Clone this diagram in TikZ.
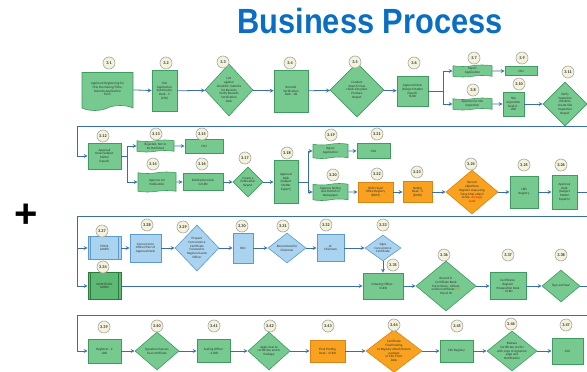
\documentclass[tikz,border=0pt]{standalone}
\usepackage{fontspec}
\setmainfont{Liberation Sans}
\newfontfamily\boxfont{Carlito}
\usetikzlibrary{shapes.geometric, shapes.symbols}

\definecolor{titleblue}{HTML}{0A6EC2}
\definecolor{procgreen}{HTML}{76C98F}
\definecolor{procline}{HTML}{3E9A5E}
\definecolor{darkgreen}{HTML}{5CBA74}
\definecolor{darkline}{HTML}{2D7A3C}
\definecolor{paleblue}{HTML}{A9D3EE}
\definecolor{paleline}{HTML}{5C9ACB}
\definecolor{hotorange}{HTML}{F8A21F}
\definecolor{hotline}{HTML}{D98315}
\definecolor{badgefill}{HTML}{F4F2DA}
\definecolor{linkblue}{HTML}{3C6EA6}

\tikzset{
	box/.style={draw=procline, fill=procgreen, line width=0.6pt, inner sep=0.5pt, align=center, text=black!80, font=\boxfont\fontsize{3.3}{3.8}\selectfont},
	proc/.style={box, rectangle},
	dec/.style={box, diamond, inner sep=-3pt},
	doc/.style={box, tape, tape bend top=none, tape bend height=5pt},
	wave/.style={box, tape, tape bend height=1.5pt},
	bluebox/.style={fill=paleblue, draw=paleline},
	hot/.style={fill=hotorange, draw=hotline},
	sz/.style 2 args={minimum width=#1, minimum height=#2},
	badge/.style={circle, draw=gray!70, fill=badgefill, line width=0.6pt, minimum size=12, inner sep=0, text=black!80, font=\boxfont\bfseries\fontsize{4.2}{4.2}\selectfont},
	link/.style={draw=linkblue, line width=0.8pt}
}

\begin{document}
\begin{tikzpicture}[x=1pt, y=-1pt]
		\useasboundingbox (0,0) rectangle (587,372);

		\node[text=titleblue, anchor=base] (title) at (370,34) {\scalebox{0.88}[1]{\bfseries\fontsize{35}{40}\selectfont Business Process}};
		\node[font=\bfseries\fontsize{40}{40}\selectfont] (plus) at (26,216) {+};

		% row 1
		\node[doc, sz={51}{38}] (n31) at (107.5,89) {Applicant Registering for\\Title Purchasing/Tithe,\\Submits Application\\Form};
		\node[proc, sz={25}{41}] (n32) at (164.5,91) {CSU\\Application\\Submission\\Desk - 5\\(LVD)};
		\node[dec, sz={48}{52}] (n33) at (229,90) {List\\against\\Checklist, Submits\\for Records\\Verify Records\\Verification\\Desk};
		\node[proc, sz={34}{42}] (n34) at (291,91) {Records\\Verification\\Desk - 4B};
		\node[dec, sz={54}{54}] (n35) at (357,90) {Conduct\\Search Cross\\check site plans\\Produce\\Report};
		\node[proc, sz={31}{30}] (n36) at (412.5,91) {Approval Desk\\(Subject Matter\\Expert)\\SLRD};
		\node[wave, sz={39}{12}] (n37) at (472.5,71) {Reject\\Application};
		\node[proc, sz={32}{9}] (n39) at (521,71) {CSU};
		\node[wave, sz={39}{12}] (n38) at (472.5,104) {Approve for Site\\Inspection};
		\node[proc, sz={21}{24}] (n310) at (513.5,104) {Site\\Inspection\\Desk 6 -\\LRD};
		\node[dec, sz={44}{44}] (n311) at (565,104) {Verify\\inspection\\checklist,\\Create Site\\Inspection\\Report};

		% row 2
		\node[proc, sz={33}{26}] (n312) at (104.5,156) {Approval\\Desk (Subject\\Matter\\Expert)};
		\node[wave, sz={37}{12}] (n313) at (155.5,146) {Rejected, Not to\\be Published};
		\node[proc, sz={38}{14}] (n315) at (204,146) {CSU};
		\node[wave, sz={38}{20}] (n314) at (157,182) {Approve for\\Publication};
		\node[proc, sz={40}{17}] (n316) at (203,182) {Publication Desk\\12 LRD};
		\node[dec, sz={30}{30}] (n317) at (248,182) {Create a\\Publication\\Report};
		\node[proc, sz={24}{43}] (n318) at (286,182) {Approval\\Desk\\(Subject\\Matter\\Expert)};
		\node[wave, sz={35}{15}] (n319) at (330.5,151) {Reject\\Application};
		\node[proc, sz={33}{15}] (n321) at (373.5,151) {CSU};
		\node[wave, sz={35}{17}] (n320) at (330.5,192) {Approve Noting\\and Publish in\\Newspaper};
		\node[proc, hot, sz={35}{20}] (n322) at (375.5,192) {DMC Head\\Office Registry\\(BDM)};
		\node[proc, hot, sz={29}{21}] (n323) at (417.5,192) {Noting\\Desk - 3\\(DMO)};
		\node[dec, hot, sz={52}{44}] (n324) at (472,192) {Record\\objections\\Register map using\\Trace Map attach\\to file. {\color{red}Acreage}\\{\color{red}Land}};
		\node[proc, sz={28}{32}] (n325) at (524,192) {LRD\\Registry};
		\node[proc, sz={25}{34}] (n326) at (564.5,192) {Approval\\Desk\\(Subject\\Matter\\Experts)};

		% row 3
		\node[proc, bluebox, sz={33}{23}] (n327) at (104.5,248) {STOOL\\LANDS};
		\node[proc, bluebox, sz={31}{28}] (n328) at (145.5,248) {Concurrence\\Officer/Part of\\Approval Desk};
		\node[dec, bluebox, sz={44}{46}] (n329) at (197,248) {Prepare\\Concurrence\\Certificate\\Forward to\\Regional Lands\\Officer};
		\node[proc, bluebox, sz={20}{30}] (n330) at (243,248) {RLO};
		\node[dec, bluebox, sz={38}{30}] (n331) at (287,248) {Recommend to\\Chairman};
		\node[proc, bluebox, sz={27}{27}] (n332) at (330.5,248) {LC\\Chairman};
		\node[dec, bluebox, sz={36}{26}] (n333) at (383,248) {Signs\\Concurrence\\Certificate};
		\node[proc, fill=darkgreen, draw=darkline, sz={33}{27}] (n334) at (104.5,286) {NON STOOL\\LANDS};
		\node[proc, sz={40}{26}] (n335) at (383,286) {Indexing Officer -\\3 LRD};
		\node[dec, sz={60}{50}] (n336) at (446,286) {Record in\\Certificate Book\\Parcel Data - Initiate\\online Certificate {\color{orange}LRD}\\Parcel ID};
		\node[proc, sz={36}{27}] (n337) at (508,286) {Certificate/\\Register\\Preparation Desk\\- 3 LRD};
		\node[dec, sz={38}{32}] (n338) at (561,286) {Sign and Seal};

		% row 4
		\node[proc, sz={33}{24}] (n339) at (104.5,351) {Registrar - 2\\LRD};
		\node[dec, sz={44}{38}] (n340) at (157,351) {Signature Express\\Seal certificate};
		\node[proc, sz={33}{23}] (n341) at (213.5,351) {Sealing Officer\\- 2 LRD};
		\node[dec, sz={42}{38}] (n342) at (269,351) {Apply Seal to\\certificate and to\\Package};
		\node[proc, hot, sz={35}{22}] (n343) at (327.5,351) {Final Posting\\Desk - 4 LRD};
		\node[dec, hot, sz={56}{40}] (n344) at (394,351) {Certificate\\Final Posting\\to Registry Attach Return\\package\\or CSU Front\\Desk};
		\node[proc, sz={33}{22}] (n345) at (456.5,351) {CSU Registry};
		\node[dec, sz={50}{40}] (n346) at (512,351) {Release\\Certificate to CSU\\with copy of signature\\page and\\Notification};
		\node[proc, sz={31}{26}] (n347) at (567.5,351) {CSU};

		% side bars of the two land boxes
		\draw[paleline, line width=0.5pt] ([xshift=3]n327.north west) -- ([xshift=3]n327.south west);
		\draw[paleline, line width=0.5pt] ([xshift=-3]n327.north east) -- ([xshift=-3]n327.south east);
		\draw[darkline, line width=0.5pt] ([xshift=3]n334.north west) -- ([xshift=3]n334.south west);
		\draw[darkline, line width=0.5pt] ([xshift=-3]n334.north east) -- ([xshift=-3]n334.south east);

		\coordinate (r1) at (587,126);
		\coordinate (l1) at (77,126);
		\coordinate (e2) at (587,192);
		\coordinate (r2) at (587,216);
		\coordinate (l2) at (77,216);
		\coordinate (e3) at (587,286);
		\coordinate (r3) at (587,315);
		\coordinate (l3) at (77,315);

		\begin{scope}[link, -stealth]
			\draw (n31) -- (n32);
			\draw (n32) -- (n33);
			\draw (n33) -- (n34);
			\draw (n34) -- (n35);
			\draw (n35) -- (n36);
			\draw (n36.east) -- ++(15,0) |- (n37.west);
			\draw (n36.east) -- ++(15,0) |- (n38.west);
			\draw (n37) -- (n39);
			\draw (n38) -- (n310);
			\draw (n310) -- (n311);

			\draw (r1) -- (l1) |- (n312.west);
			\draw (n312.east) -- ++(6,0) |- (n313.west);
			\draw (n312.east) -- ++(6,0) |- (n314.west);
			\draw (n313) -- (n315);
			\draw (n314) -- (n316);
			\draw (n316) -- (n317);
			\draw (n317) -- (n318);
			\draw (n318.east) -- ++(10,0) |- (n319.west);
			\draw (n318.east) -- ++(10,0) |- (n320.west);
			\draw (n319) -- (n321);
			\draw (n320) -- (n322);
			\draw (n322) -- (n323);
			\draw (n323) -- (n324);
			\draw (n324) -- (n325);
			\draw (n325) -- (n326);

			\draw (r2) -- (l2) |- (n327.west);
			\draw (l2) |- (n334.west);
			\draw (n327) -- (n328);
			\draw (n328) -- (n329);
			\draw (n329) -- (n330);
			\draw (n330) -- (n331);
			\draw (n331) -- (n332);
			\draw (n332) -- (n333);
			\draw (n333) -- (n335);
			\draw (n334) -- (n335);
			\draw (n335) -- (n336);
			\draw (n336) -- (n337);
			\draw (n337) -- (n338);

			\draw (r3) -- (l3) |- (n339.west);
			\draw (n339) -- (n340);
			\draw (n340) -- (n341);
			\draw (n341) -- (n342);
			\draw (n342) -- (n343);
			\draw (n343) -- (n344);
			\draw (n344) -- (n345);
			\draw (n345) -- (n346);
			\draw (n346) -- (n347);
		\end{scope}

		\begin{scope}[link]
			\draw (n326) -- (e2);
			\draw (n338) -- (e3);
		\end{scope}

		% step numbers
		\node[badge] (b31) at (109,63) {3.1};
		\node[badge] (b32) at (166,63) {3.2};
		\node[badge] (b33) at (223,62) {3.3};
		\node[badge] (b34) at (290,63) {3.4};
		\node[badge] (b35) at (355,62) {3.5};
		\node[badge] (b36) at (414,63) {3.6};
		\node[badge] (b37) at (474,58) {3.7};
		\node[badge] (b39) at (522,58) {3.9};
		\node[badge] (b38) at (473,90) {3.8};
		\node[badge] (b310) at (519,84) {3.10};
		\node[badge] (b311) at (568,72) {3.11};
		\node[badge] (b312) at (103,136) {3.12};
		\node[badge] (b313) at (156,134) {3.13};
		\node[badge] (b315) at (202,134) {3.15};
		\node[badge] (b314) at (153,164) {3.14};
		\node[badge] (b316) at (202,164) {3.16};
		\node[badge] (b317) at (245,158) {3.17};
		\node[badge] (b318) at (287,153) {3.18};
		\node[badge] (b319) at (331,135) {3.19};
		\node[badge] (b321) at (377,134) {3.21};
		\node[badge] (b320) at (333,175) {3.20};
		\node[badge] (b322) at (377,174) {3.22};
		\node[badge] (b323) at (417,172) {3.23};
		\node[badge] (b324) at (471,164) {3.24};
		\node[badge] (b325) at (524,165) {3.25};
		\node[badge] (b326) at (561,165) {3.26};
		\node[badge] (b327) at (102,231) {3.27};
		\node[badge] (b328) at (147,225) {3.28};
		\node[badge] (b329) at (183,227) {3.29};
		\node[badge] (b330) at (242,226) {3.30};
		\node[badge] (b331) at (283,226) {3.31};
		\node[badge] (b332) at (326,225) {3.32};
		\node[badge] (b333) at (383,225) {3.33};
		\node[badge] (b334) at (103,267) {3.34};
		\node[badge] (b335) at (393,265) {3.35};
		\node[badge] (b336) at (444,255) {3.36};
		\node[badge] (b337) at (508,255) {3.37};
		\node[badge] (b338) at (561,255) {3.38};
		\node[badge] (b339) at (104,327) {3.39};
		\node[badge] (b340) at (157,326) {3.40};
		\node[badge] (b341) at (214,326) {3.41};
		\node[badge] (b342) at (270,326) {3.42};
		\node[badge] (b343) at (328,326) {3.43};
		\node[badge] (b344) at (394,325) {3.44};
		\node[badge] (b345) at (457,326) {3.45};
		\node[badge] (b346) at (511,324) {3.46};
		\node[badge] (b347) at (566,325) {3.47};
	\end{tikzpicture}
\end{document}
